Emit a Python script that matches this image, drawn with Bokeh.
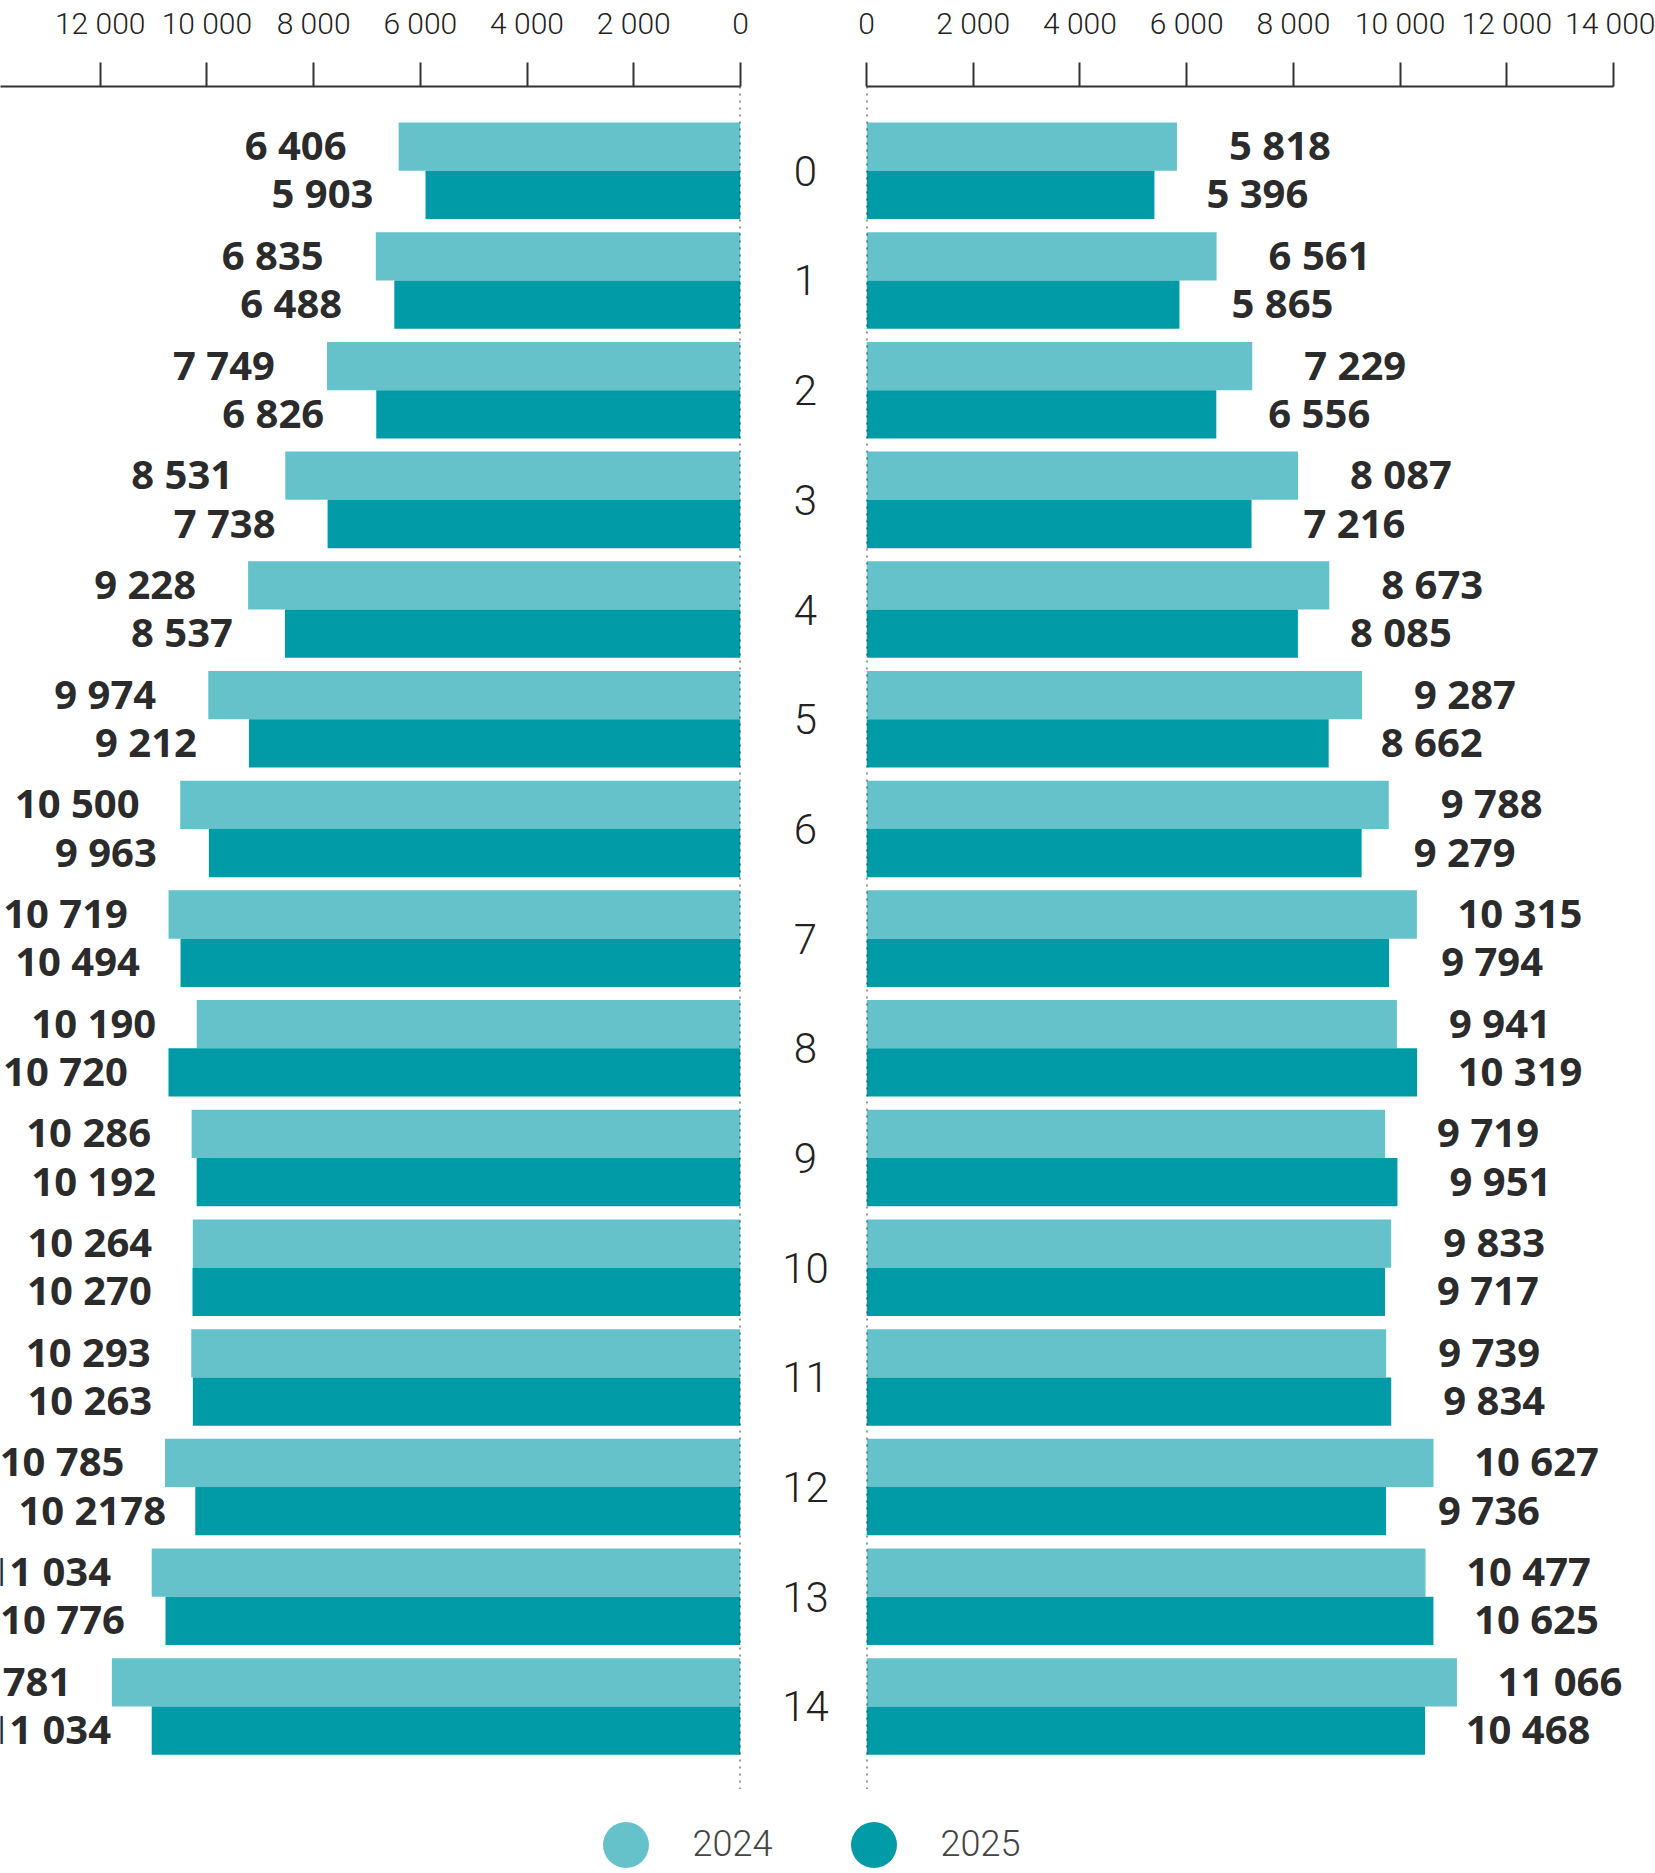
from bokeh.plotting import figure
from bokeh.models import Range1d, ColumnDataSource, LabelSet, Span, FixedTicker, Legend, LegendItem
from bokeh.layouts import row, column
from bokeh.transform import dodge
from bokeh.core.properties import value
from bokeh.embed import file_html
from bokeh.resources import INLINE

# ---------------- data ----------------
ages = list(range(15))
age_labels = [str(a) for a in ages]

left_2024 = [6406, 6835, 7749, 8531, 9228, 9974, 10500, 10719, 10190, 10286, 10264, 10293, 10785, 11034, 11781]
left_2025 = [5903, 6488, 6826, 7738, 8537, 9212, 9963, 10494, 10720, 10192, 10270, 10263, 10218, 10776, 11034]
right_2024 = [5818, 6561, 7229, 8087, 8673, 9287, 9788, 10315, 9941, 9719, 9833, 9739, 10627, 10477, 11066]
right_2025 = [5396, 5865, 6556, 7216, 8085, 8662, 9279, 9794, 10319, 9951, 9717, 9834, 9736, 10625, 10468]

series_names = ["2024", "2025"]
tick_values = [0, 2000, 4000, 6000, 8000, 10000, 12000, 14000]
tick_labels = ["0", "2 000", "4 000", "6 000", "8 000", "10 000", "12 000", "14 000"]


def fmt(v):
    return f"{v:,}".replace(",", " ")


left_2024_labels = [fmt(v) for v in left_2024]
left_2025_labels = [fmt(v) for v in left_2025]
left_2025_labels[12] = "10 2178"  # as printed in the original
right_2024_labels = [fmt(v) for v in right_2024]
right_2025_labels = [fmt(v) for v in right_2025]

# ---------------- style ----------------
LIGHT = "#66C2CA"
DARK = "#009BA7"
TEXT = "#2b2b2b"
AXIS = "#333333"
LIGHT_FONT = "Roboto Light, Roboto"
TOP_H = 1789
TOP_BORDER = 86
BAR_H = 0.44
OFF = 0.22
LABEL_OFFSET = 103

y_range = Range1d(14.757, -0.7685)

src_left = ColumnDataSource(dict(age=ages, v24=left_2024, v25=left_2025,
                                 t24=left_2024_labels, t25=left_2025_labels))
src_right = ColumnDataSource(dict(age=ages, v24=right_2024, v25=right_2025,
                                  t24=right_2024_labels, t25=right_2025_labels))


def clean(p):
    p.xgrid.visible = False
    p.ygrid.visible = False
    p.outline_line_color = None
    p.background_fill_color = None
    p.border_fill_color = None


def style_axis(p):
    ax = p.xaxis[0]
    ax.ticker = FixedTicker(ticks=tick_values)
    ax.major_label_overrides = {t: l for t, l in zip(tick_values, tick_labels)}
    ax.bounds = (0, 14000)
    ax.major_tick_out = 24
    ax.major_tick_in = 0
    ax.minor_tick_line_color = None
    ax.axis_line_width = 2
    ax.axis_line_color = AXIS
    ax.major_tick_line_width = 2
    ax.major_tick_line_color = AXIS
    ax.major_label_text_font = LIGHT_FONT
    ax.major_label_text_font_size = "30px"
    ax.major_label_text_color = "#222222"
    ax.major_label_standoff = 22
    clean(p)


def add_side(p, src, side):
    p.hbar(y=dodge("age", -OFF, range=p.y_range), left=0, right="v24", height=BAR_H,
           fill_color=LIGHT, line_color=None, source=src)
    p.hbar(y=dodge("age", OFF, range=p.y_range), left=0, right="v25", height=BAR_H,
           fill_color=DARK, line_color=None, source=src)
    xo = -LABEL_OFFSET if side == "left" else LABEL_OFFSET
    for col, vcol, d in (("t24", "v24", -OFF), ("t25", "v25", OFF)):
        p.add_layout(LabelSet(x=vcol, y=dodge("age", d, range=p.y_range),
                              text=col, source=src, x_offset=xo, y_offset=2, text_align="center",
                              text_baseline="middle", text_font=value("Noto Sans"),
                              text_font_style="bold", text_font_size="40px", text_color=TEXT))
    p.add_layout(Span(location=0, dimension="height", line_color=AXIS, line_width=2,
                      line_dash="2 5"))


# ---------------- left figure ----------------
pl = figure(width=770, height=TOP_H, x_range=Range1d(13868, 0), y_range=y_range,
            x_axis_location="above", y_axis_location=None,
            output_backend="svg", toolbar_location=None,
            min_border_left=0, min_border_right=30, min_border_top=TOP_BORDER, min_border_bottom=0)
style_axis(pl)
add_side(pl, src_left, "left")

# ---------------- middle figure (age labels) ----------------
pm = figure(width=70, height=TOP_H, x_range=Range1d(0, 1), y_range=y_range,
            x_axis_location=None, y_axis_location=None,
            output_backend="svg", toolbar_location=None,
            min_border_left=0, min_border_right=0, min_border_top=TOP_BORDER, min_border_bottom=0)
clean(pm)
asrc = ColumnDataSource(dict(age=ages, lab=age_labels))
pm.text(x=0.5, y="age", text="lab", source=asrc, text_align="center", text_baseline="middle",
        text_font=value(LIGHT_FONT), text_font_size="42px", text_color="#222222")

# ---------------- right figure ----------------
pr = figure(width=815, height=TOP_H, x_range=Range1d(0, 14787), y_range=y_range,
            x_axis_location="above", y_axis_location=None,
            output_backend="svg", toolbar_location=None,
            min_border_left=26, min_border_right=0, min_border_top=TOP_BORDER, min_border_bottom=0)
style_axis(pr)
add_side(pr, src_right, "right")

# ---------------- legend figure ----------------
pg = figure(width=1655, height=81, x_range=Range1d(0, 1), y_range=Range1d(0, 1),
            x_axis_location=None, y_axis_location=None,
            output_backend="svg", toolbar_location=None,
            min_border_left=0, min_border_right=0, min_border_top=0, min_border_bottom=0)
clean(pg)
# legend proxies: the series themselves (they fall outside this strip's ranges, only the key shows)
proxy_24 = pg.scatter(x="v24", y="age", source=src_left, marker="circle",
                      fill_color=LIGHT, line_color=None)
proxy_25 = pg.scatter(x="v25", y="age", source=src_left, marker="circle",
                      fill_color=DARK, line_color=None)


def make_legend(label, r, vx):
    return Legend(items=[LegendItem(label=label, renderers=[r])], location=(vx, -31.5),
                  glyph_width=115, glyph_height=115, label_standoff=10, padding=0, margin=0,
                  spacing=0, border_line_color=None, background_fill_alpha=0,
                  label_text_font=LIGHT_FONT, label_text_font_size="36px",
                  label_text_color="#444444", label_text_baseline="middle")


pg.add_layout(make_legend(series_names[0], proxy_24, 567.5), "center")
pg.add_layout(make_legend(series_names[1], proxy_25, 815.5), "center")

layout = column(row(pl, pm, pr, spacing=0), pg, spacing=0)
open("out.html", "w").write(file_html(layout, INLINE))
